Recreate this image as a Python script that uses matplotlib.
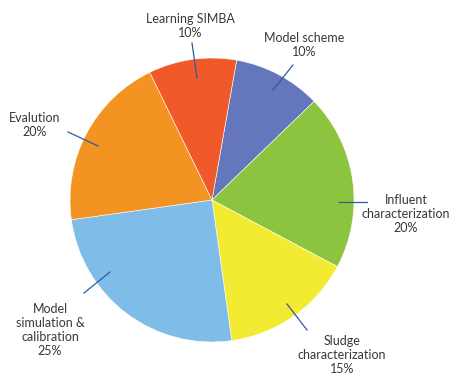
import matplotlib
matplotlib.use("Agg")
from matplotlib import pyplot as plt

# wedges clockwise from the top
labels = ["Model scheme", "Influent\ncharacterization", "Sludge\ncharacterization",
          "Model\nsimulation &\ncalibration", "Evalution", "Learning SIMBA"]
shares = [10, 20, 15, 25, 20, 10]
colors = ["#6577BC", "#8CC43F", "#F3EB32", "#7FBCE8", "#F39321", "#F05A2B"]

W, H = 455, 373
fig = plt.figure(figsize=(W / 100, H / 100), dpi=100)
ax = fig.add_axes([0, 0, 1, 1])

ax.pie(shares, colors=colors, startangle=80, counterclock=False,
       center=(212, H - 200), radius=142, frame=True,
       wedgeprops=dict(edgecolor="white", linewidth=0.4))

ax.set_xlim(0, W)
ax.set_ylim(0, H)
ax.set_aspect("equal")
ax.axis("off")

# label layout in pixel coords: (text x, text centre of first line, line start, line end)
layout = [
    (304, 37, (273, 90), (293, 65)),
    (406, 199, (339, 202), (367, 202)),
    (342, 340, (287, 304), (307, 330)),
    (50, 308, (110, 272), (84, 293)),
    (35, 117, (98, 146), (68, 132)),
    (190, 18, (197, 78), (192, 43)),
]

for lab, s, (tx, ty, p0, p1) in zip(labels, shares, layout):
    ax.plot([p0[0], p1[0]], [H - p0[1], H - p1[1]], color="#2E5C9E", lw=0.9)
    ax.text(tx, H - ty + 5, f"{lab}\n{s}%", ha="center", va="top",
            fontsize=9, family="Lato", color="#383838", linespacing=1.2)

fig.savefig("out.png", dpi=100)
